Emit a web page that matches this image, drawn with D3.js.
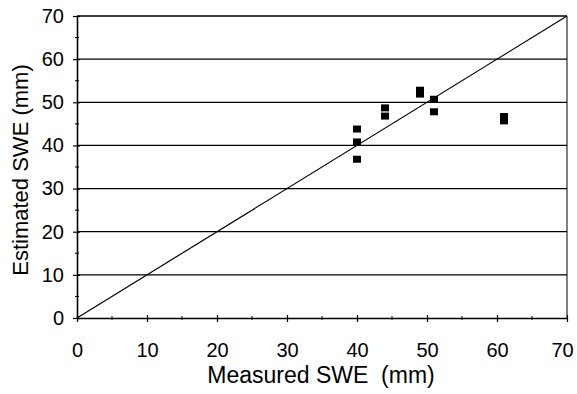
<!DOCTYPE html>
<html>
<head>
<meta charset="utf-8">
<script src="https://cdn.jsdelivr.net/npm/d3@7"></script>
<style>
  body { margin: 0; background: #fff; }
  text { font-family: "Liberation Sans", Arial, sans-serif; fill: #000; }
</style>
</head>
<body>
<div id="chart"></div>
<script>
// measured vs estimated SWE (mm)
var measured  = [40, 40, 40, 44, 44, 49, 49, 51, 51, 61, 61];
var estimated = [43.8, 40.8, 36.8, 48.7, 46.8, 52.8, 51.9, 50.7, 47.8, 46.7, 45.7];
var xTicks = [0, 10, 20, 30, 40, 50, 60, 70];
var yTicks = [0, 10, 20, 30, 40, 50, 60, 70];
var minorTicks = [5, 15, 25, 35, 45, 55, 65];

var width = 577, height = 394;
var margin = { left: 77, right: 10, top: 16, bottom: 76 };

var svg = d3.select("#chart").append("svg")
  .attr("width", width)
  .attr("height", height);

var x = d3.scaleLinear().domain([0, 70]).range([margin.left, width - margin.right]);
var y = d3.scaleLinear().domain([0, 70]).range([height - margin.bottom, margin.top]);

// horizontal grid lines
svg.append("g")
  .selectAll("line")
  .data(yTicks.slice(1))
  .enter().append("line")
  .attr("x1", x(0)).attr("x2", x(70))
  .attr("y1", function (d) { return y(d); })
  .attr("y2", function (d) { return y(d); })
  .attr("stroke", "#000")
  .attr("stroke-width", 1.3);

// right border
svg.append("line")
  .attr("x1", x(70)).attr("x2", x(70))
  .attr("y1", y(0)).attr("y2", y(70))
  .attr("stroke", "#000").attr("stroke-width", 1);

// 1:1 line
svg.append("line")
  .attr("x1", x(0)).attr("y1", y(0))
  .attr("x2", x(70)).attr("y2", y(70))
  .attr("stroke", "#000").attr("stroke-width", 1.2);

// axes
var xAxis = d3.axisBottom(x).tickValues(xTicks).tickSize(4).tickSizeOuter(0).tickPadding(21);
var yAxis = d3.axisLeft(y).tickValues(yTicks).tickSize(4).tickSizeOuter(0).tickPadding(9);

var gx = svg.append("g")
  .attr("transform", "translate(0," + y(0) + ")")
  .call(xAxis);
var gy = svg.append("g")
  .attr("transform", "translate(" + x(0) + ",0)")
  .call(yAxis);

[gx, gy].forEach(function (g) {
  g.select(".domain").attr("stroke", "#000").attr("stroke-width", 1.6);
  g.selectAll(".tick line").attr("stroke", "#000").attr("stroke-width", 1.2);
  g.selectAll(".tick text")
    .style("font-size", "20px")
    .attr("fill", "#000");
});
gx.selectAll(".tick line").attr("y1", -3);
gy.selectAll(".tick line").attr("x1", 3);
// keep the last label inside the window
gx.selectAll(".tick text").filter(function (d) { return d === 70; }).attr("x", -5);

// minor ticks
svg.append("g").selectAll("line").data(minorTicks).enter().append("line")
  .attr("x1", function (d) { return x(d); }).attr("x2", function (d) { return x(d); })
  .attr("y1", y(0) - 2).attr("y2", y(0) + 2)
  .attr("stroke", "#000");
svg.append("g").selectAll("line").data(minorTicks).enter().append("line")
  .attr("y1", function (d) { return y(d); }).attr("y2", function (d) { return y(d); })
  .attr("x1", x(0) - 2).attr("x2", x(0) + 2)
  .attr("stroke", "#000");

// data points
svg.append("g")
  .selectAll("rect")
  .data(measured)
  .enter().append("rect")
  .attr("x", function (d) { return x(d) - 4; })
  .attr("y", function (d, i) { return y(estimated[i]) - 3.5; })
  .attr("width", 8)
  .attr("height", 7)
  .attr("fill", "#000");

// axis titles
svg.append("text")
  .attr("x", 321).attr("y", 383)
  .attr("text-anchor", "middle")
  .style("font-size", "23px")
  .style("white-space", "pre")
  .text("Measured SWE  (mm)");

svg.append("text")
  .attr("transform", "translate(28,170) rotate(-90)")
  .attr("text-anchor", "middle")
  .style("font-size", "22px")
  .text("Estimated SWE (mm)");
</script>
</body>
</html>
